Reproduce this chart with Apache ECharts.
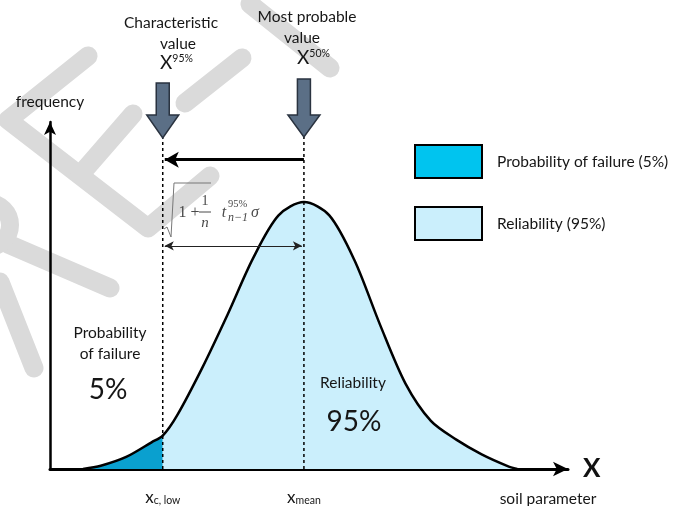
<!DOCTYPE html>
<html>
<head>
<meta charset="utf-8">
<script src="https://cdn.jsdelivr.net/npm/echarts@6/dist/echarts.min.js"></script>
<style>
  html, body { margin: 0; padding: 0; background: #fff; }
  #main { width: 677px; height: 506px; }
</style>
</head>
<body>
<div id="main"></div>
<script>
// curve (x in "soil parameter" units, y = relative frequency)
var xs   = [0.65, 1.0, 1.5, 2.0, 2.22, 2.5, 3.0, 3.5, 4.0, 4.5, 5.0, 5.5, 6.0, 6.5, 7.0, 7.5, 8.0, 8.5, 9.0, 9.2];
var freq = [0, 0.012, 0.045, 0.1, 0.125, 0.2, 0.38, 0.58, 0.79, 0.95, 1.0, 0.95, 0.78, 0.54, 0.32, 0.18, 0.11, 0.055, 0.012, 0];
var xLow = 2.22;
var xMean = 5;
var tickValues = [xLow, xMean];
var tickSubs = ['c, low', 'mean'];
var legendNames = ['Probability of failure (5%)', 'Reliability (95%)'];

var FONT = 'Lato';
var INK = '#161616';
var full = xs.map(function (x, i) { return [x, freq[i]]; });
var failure = full.filter(function (p) { return p[0] <= xLow; });
var reliab = full.filter(function (p) { return p[0] >= xLow; });

var chart = echarts.init(document.getElementById('main'));

var option = {
  animation: false,
  grid: { left: 50, top: 122, width: 518, bottom: 34 },
  legend: {
    orient: 'vertical',
    left: 409, top: 139,
    itemWidth: 67, itemHeight: 33, itemGap: 27,
    selectedMode: false,
    textStyle: { fontFamily: FONT, fontSize: 15.5, color: INK, padding: [0, 0, 0, 10] },
    data: [
      { name: legendNames[0], icon: 'rect', itemStyle: { color: '#00c4ef', borderColor: '#000', borderWidth: 2 } },
      { name: legendNames[1], icon: 'rect', itemStyle: { color: '#cbeffc', borderColor: '#000', borderWidth: 2 } }
    ]
  },
  xAxis: {
    type: 'value', min: 0, max: 10.2,
    axisLine: { symbol: ['none', 'arrow'], symbolSize: [11, 15], lineStyle: { color: '#000', width: 3 } },
    axisTick: { show: false },
    splitLine: { show: false },
    axisLabel: {
      customValues: tickValues,
      margin: 20,
      formatter: function (v) {
        var i = tickValues.indexOf(v);
        return '{x|x}{s|' + (i >= 0 ? tickSubs[i] : '') + '}';
      },
      rich: {
        x: { fontFamily: FONT, fontSize: 17, color: INK },
        s: { fontFamily: FONT, fontSize: 10.5, color: INK, padding: [6, 0, 0, 0] }
      }
    },
    name: 'X', nameLocation: 'end', nameGap: 15,
    nameTextStyle: { fontFamily: FONT, fontSize: 26, fontWeight: 'bold', color: '#111' }
  },
  yAxis: {
    type: 'value', min: 0, max: 1.3,
    axisLine: { symbol: ['none', 'arrow'], symbolSize: [9, 13], lineStyle: { color: '#000', width: 2.5 } },
    axisTick: { show: false },
    axisLabel: { show: false },
    splitLine: { show: false },
    name: 'frequency', nameLocation: 'end', nameGap: 12,
    nameTextStyle: { fontFamily: FONT, fontSize: 15.5, color: INK }
  },
  series: [
    {
      name: legendNames[0], type: 'line', data: failure, smooth: 0.3, symbol: 'none',
      lineStyle: { width: 0 }, itemStyle: { color: '#0aa0cf' },
      areaStyle: { color: '#0aa0cf', opacity: 1 }, z: 1, silent: true
    },
    {
      name: legendNames[1], type: 'line', data: reliab, smooth: 0.3, symbol: 'none',
      lineStyle: { width: 0 }, itemStyle: { color: '#cbeffc' },
      areaStyle: { color: '#cbeffc', opacity: 1 }, z: 1, silent: true
    },
    {
      type: 'line', data: full, smooth: 0.3, symbol: 'none', silent: true,
      lineStyle: { color: '#000', width: 2.5 }, z: 3
    },
    {
      type: 'line', data: [[xLow, 0], [xLow, 1.245]], symbol: 'none', clip: false, silent: true,
      lineStyle: { color: '#000', width: 1.5, type: [3, 3] }, z: 4
    },
    {
      type: 'line', data: [[xMean, 0], [xMean, 1.245]], symbol: 'none', clip: false, silent: true,
      lineStyle: { color: '#000', width: 1.5, type: [3, 3] }, z: 4
    },
    {
      type: 'line', data: [], silent: true,
      markLine: {
        silent: true, symbol: ['none', 'arrow'], symbolSize: [12, 14],
        label: { show: false },
        lineStyle: { color: '#000', width: 3, type: 'solid' },
        data: [[{ coord: [xMean, 1.159] }, { coord: [xLow + 0.04, 1.159] }]]
      }
    },
    {
      type: 'line', data: [], silent: true,
      markLine: {
        silent: true, symbol: ['arrow', 'arrow'], symbolSize: [7, 9],
        label: { show: false },
        lineStyle: { color: '#222', width: 1.2, type: 'solid' },
        data: [[{ coord: [xLow + 0.04, 0.836] }, { coord: [xMean - 0.04, 0.836] }]]
      }
    }
  ]
};
chart.setOption(option);

// annotations
var pLow = chart.convertToPixel({ gridIndex: 0 }, [xLow, 0])[0];
var pMean = chart.convertToPixel({ gridIndex: 0 }, [xMean, 0])[0];

function downArrow(cx, top, tip) {
  return {
    type: 'polygon', z: 10,
    shape: { points: [
      [cx - 6.5, top], [cx + 6.5, top], [cx + 6.5, 115], [cx + 16, 115],
      [cx, tip], [cx - 16, 115], [cx - 6.5, 115]
    ] },
    style: { fill: '#5b6f86', stroke: '#2a3340', lineWidth: 1.5 }
  };
}
function txt(x, y, s, size, extra) {
  var st = { x: x, y: y, text: s, fontFamily: FONT, fontSize: size, fill: INK, align: 'center', verticalAlign: 'middle' };
  for (var k in extra) st[k] = extra[k];
  return { type: 'text', z: 10, style: st };
}
function wm(points) {
  return { type: 'polyline', z: -10, silent: true, shape: { points: points },
    style: { stroke: '#dadada', lineWidth: 19, lineCap: 'round', lineJoin: 'round', fill: null } };
}
var serif = 'Liberation Serif';
var fGray = '#4a4a4a';

chart.setOption({
  graphic: [
    // watermark
    wm([[88, 56], [8, 120], [148, 228], [210, 176]]),
    wm([[80, 175], [133, 114]]),
    wm([[8, 244], [110, 288]]),
    wm([[0, 282], [34, 368]]),
    wm([[185, 103], [242, 58]]),
    wm([[250, 4], [330, 68]]),
    { type: 'arc', z: -10, silent: true, shape: { cx: -12, cy: 225, r: 22, startAngle: -Math.PI / 2, endAngle: Math.PI / 2 },
      style: { stroke: '#dadada', lineWidth: 18, fill: null } },

    downArrow(pLow, 83, 138),
    downArrow(pMean, 79, 137),

    txt(171, 23, 'Characteristic', 15.5),
    txt(178, 44, 'value', 15.5),
    { type: 'text', z: 10, style: { x: 160, y: 63, text: '{b|X}{s|95%}', verticalAlign: 'middle',
      rich: { b: { fontFamily: FONT, fontSize: 19, fill: INK }, s: { fontFamily: FONT, fontSize: 10.5, fill: INK, padding: [0, 0, 8, 0] } } } },
    txt(307, 17, 'Most probable', 15.5),
    txt(302, 38, 'value', 15.5),
    { type: 'text', z: 10, style: { x: 297, y: 58, text: '{b|X}{s|50%}', verticalAlign: 'middle',
      rich: { b: { fontFamily: FONT, fontSize: 19, fill: INK }, s: { fontFamily: FONT, fontSize: 10.5, fill: INK, padding: [0, 0, 8, 0] } } } },

    txt(548, 499, 'soil parameter', 15.5),
    txt(110, 333, 'Probability', 15.5),
    txt(110, 354, 'of failure', 15.5),
    txt(108, 390, '5%', 28),
    txt(353, 383, 'Reliability', 15.5),
    txt(354, 422, '95%', 28),

    // formula sqrt(1 + 1/n) t^95%_{n-1} sigma
    { type: 'polyline', z: 10, shape: { points: [[164, 229], [167, 227], [171, 237], [174, 183], [211, 183]] },
      style: { stroke: '#777', lineWidth: 1, fill: null } },
    txt(189, 213, '1 +', 16, { fontFamily: serif, fill: fGray }),
    txt(205, 201, '1', 14, { fontFamily: serif, fill: fGray }),
    { type: 'line', z: 10, shape: { x1: 199, y1: 212, x2: 211, y2: 212 }, style: { stroke: fGray, lineWidth: 1 } },
    txt(205, 223, 'n', 15, { fontFamily: serif, fontStyle: 'italic', fill: fGray }),
    txt(224, 213, 't', 16, { fontFamily: serif, fontStyle: 'italic', fill: fGray }),
    txt(228, 204, '95%', 10.5, { fontFamily: serif, fill: fGray, align: 'left' }),
    txt(228, 218, 'n\u22121', 12, { fontFamily: serif, fontStyle: 'italic', fill: fGray, align: 'left' }),
    txt(255, 213, '\u03c3', 16, { fontFamily: serif, fontStyle: 'italic', fill: fGray })
  ]
});
</script>
</body>
</html>
